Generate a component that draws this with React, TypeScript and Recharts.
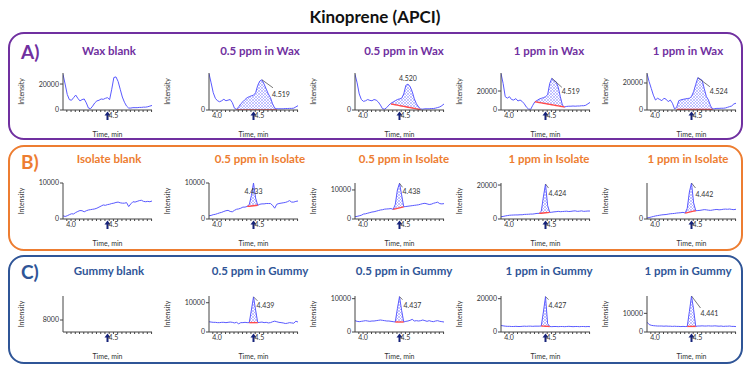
import React from 'react';
import { ComposedChart, Line, Area, XAxis, YAxis, ReferenceDot, Label } from 'recharts';

// ---------- shared axis data ----------
const TIMES = [3.905, 3.93, 3.955, 3.98, 4.005, 4.03, 4.055, 4.08, 4.105, 4.13, 4.155, 4.18, 4.205, 4.23, 4.255, 4.28, 4.305, 4.33, 4.355, 4.38, 4.405, 4.43, 4.455, 4.48, 4.505, 4.53, 4.555, 4.58, 4.605, 4.63, 4.655, 4.68, 4.705, 4.73, 4.755, 4.78, 4.805, 4.83, 4.855, 4.88, 4.905, 4.93, 4.955];
const X_TICKS = [3.95, 4.0, 4.05, 4.1, 4.15, 4.2, 4.25, 4.3, 4.35, 4.4, 4.45, 4.5, 4.55, 4.6, 4.65, 4.7, 4.75, 4.8, 4.85, 4.9, 4.95];
const X_LABELS_FULL = [4.0, 4.5];
const X_LABELS_SHORT = [4.5];
const ARROW_TIME = 4.43;

// ---------- titles ----------
const MAIN_TITLE = 'Kinoprene (APCI)';
const PANEL_LABELS = ['A)', 'B)', 'C)'];
const TITLES_A = ['Wax blank', '0.5 ppm in Wax', '0.5 ppm in Wax', '1 ppm in Wax', '1 ppm in Wax'];
const TITLES_B = ['Isolate blank', '0.5 ppm in Isolate', '0.5 ppm in Isolate', '1 ppm in Isolate', '1 ppm in Isolate'];
const TITLES_C = ['Gummy blank', '0.5 ppm in Gummy', '0.5 ppm in Gummy', '1 ppm in Gummy', '1 ppm in Gummy'];

// ---------- intensity traces ----------
const WAX_BLANK = [27500, 20000, 12000, 8000, 7500, 9500, 11500, 9000, 7000, 8000, 8500, 5500, 1500, 1000, 3000, 5500, 7000, 7500, 8500, 8200, 9000, 9500, 8000, 16000, 25000, 25500, 22000, 16000, 10000, 6000, 3000, 1500, 1500, 1800, 1800, 1800, 2000, 2000, 2200, 2200, 2500, 3000, 3500];
const WAX_05_A = [29500, 22000, 14000, 9500, 7500, 6700, 7500, 8700, 7500, 8000, 8500, 6000, 1500, 500, 2500, 5000, 6700, 8500, 10000, 10800, 11500, 12000, 14000, 20000, 23500, 24500, 21000, 17000, 13000, 10000, 5000, 1500, 1000, 1000, 1000, 1000, 1200, 1200, 1300, 1300, 1500, 2500, 3500];
const WAX_05_B = [29000, 22000, 13000, 8500, 7000, 7500, 8500, 7800, 7500, 8500, 8000, 6500, 4000, 1000, 700, 2000, 4000, 5500, 6500, 7500, 8500, 9000, 9500, 13000, 20000, 21000, 19000, 15000, 9000, 5000, 2500, 800, 700, 1000, 1000, 1000, 1200, 1200, 1500, 2000, 2500, 3500, 4900];
const WAX_1_A = [38500, 28000, 14000, 12500, 14000, 11000, 10500, 12000, 9500, 10500, 9000, 6500, 3000, 1000, 700, 5000, 8700, 10000, 11500, 12300, 13000, 14000, 16000, 28000, 33400, 31000, 29800, 24000, 14000, 5000, 3200, 3800, 4000, 4000, 4200, 4000, 4200, 4200, 4500, 4500, 5000, 6500, 8000];
const WAX_1_B = [27000, 21000, 16000, 11000, 7400, 8700, 7800, 6900, 8700, 8000, 6200, 7400, 5000, 800, 2000, 6900, 7500, 7900, 8200, 8500, 8700, 10000, 13600, 19000, 23900, 23000, 22000, 16000, 10000, 7400, 3000, 700, 1000, 1200, 1200, 1300, 1300, 1500, 2000, 2500, 3000, 4500, 5000];

const ISO_BLANK = [900, 700, 900, 1200, 1450, 1400, 1800, 2100, 2350, 2300, 2000, 2300, 2500, 2600, 2700, 2800, 3000, 3300, 3600, 3900, 3800, 4000, 4100, 4300, 4400, 4600, 4700, 4500, 4400, 4400, 4550, 3450, 4200, 4800, 4700, 4900, 5100, 5200, 4900, 4800, 4900, 4800, 5000];
const ISO_05_A = [900, 1000, 1200, 1300, 1500, 1700, 1850, 2100, 2300, 2400, 2100, 2000, 2400, 2700, 2800, 3000, 3300, 3300, 3500, 4000, 6500, 10000, 5800, 3800, 4100, 4200, 4200, 4300, 4300, 4300, 3800, 3000, 4100, 4300, 4400, 4500, 4600, 4800, 5100, 4700, 4700, 4900, 5000];
const ISO_05_B = [800, 900, 1100, 1300, 1700, 1800, 2000, 2200, 2400, 2500, 2700, 2900, 3100, 3200, 3400, 3450, 3500, 3600, 3300, 5000, 10000, 12300, 8300, 4200, 4300, 4400, 4500, 4600, 4700, 4800, 4900, 5100, 5300, 5400, 5200, 5000, 5100, 5400, 5600, 5800, 5300, 5200, 5300];
const ISO_1_A = [1350, 1500, 1800, 2000, 2200, 2300, 2350, 2400, 2400, 2500, 2500, 2700, 2750, 2800, 2900, 2900, 3100, 3300, 3300, 4500, 13000, 20600, 8000, 3900, 4000, 4200, 4300, 4500, 4300, 4400, 4500, 4600, 4400, 4500, 4700, 4800, 4500, 4600, 4800, 4500, 4600, 4700, 4700];
const ISO_1_B = [550, 800, 1100, 1400, 1700, 1900, 2100, 2300, 2400, 2500, 2700, 2900, 3000, 3100, 3300, 3400, 3500, 3700, 3300, 6000, 15000, 20000, 9000, 4600, 4700, 4800, 5000, 5200, 5100, 4900, 4800, 5000, 5200, 5300, 5100, 5200, 5400, 5500, 5400, 5550, 5300, 5200, 5400];

const GUM_05_A = [3500, 3400, 3300, 3300, 3200, 3200, 3300, 3300, 3200, 3300, 3400, 3300, 3100, 3300, 2800, 3200, 3200, 3300, 3200, 3200, 7500, 12000, 7500, 3200, 3300, 3400, 3200, 3300, 3100, 3200, 3500, 3700, 3500, 3300, 3200, 3100, 2900, 3000, 3200, 3100, 3000, 3700, 3400];
const GUM_05_B = [3400, 3200, 3100, 3200, 3300, 3400, 3300, 3200, 3300, 3300, 3400, 3500, 3600, 3500, 3400, 3300, 3300, 3200, 3100, 3000, 7000, 10600, 6500, 3000, 3200, 3300, 3500, 3800, 3300, 3400, 3300, 3400, 3600, 3400, 3200, 3400, 3200, 3100, 3300, 3400, 3200, 3100, 3000];
const GUM_1_A = [3900, 3700, 3500, 3400, 3400, 3300, 3300, 3400, 3300, 3300, 3400, 3500, 3400, 3500, 3500, 3400, 3500, 3500, 3500, 3600, 12000, 21200, 5000, 3300, 3200, 3300, 3300, 3200, 3300, 3300, 3200, 3300, 3400, 3300, 3200, 3300, 3300, 3200, 3300, 3300, 3200, 3300, 3200];
const GUM_1_B = [5300, 4000, 3600, 3400, 3300, 3200, 3200, 3200, 3100, 3200, 3100, 3100, 3000, 3100, 3000, 3000, 2900, 3000, 2900, 3000, 11000, 19300, 12000, 3000, 3200, 3200, 3300, 3200, 3200, 3300, 3200, 3200, 3300, 3200, 3100, 3200, 3000, 3100, 3100, 3200, 3000, 3000, 2900];

// ---------- integration (peak) data: [fromIndex, toIndex, baseStart, baseEnd] ----------
const PEAK_WAX_05_A = [13, 32, 0, 0];
const PEAK_WAX_05_B = [17, 31, 4900, 300];
const PEAK_WAX_1_A = [16, 30, 8700, 3200];
const PEAK_WAX_1_B = [14, 31, 500, 500];
const PEAK_ISO_05_A = [18, 23, 3500, 3800];
const PEAK_ISO_05_B = [18, 23, 3300, 4200];
const PEAK_ISO_1_A = [18, 23, 3300, 3900];
const PEAK_ISO_1_B = [18, 23, 3300, 4600];
const PEAK_GUM_05_A = [19, 23, 3200, 3200];
const PEAK_GUM_05_B = [19, 23, 3000, 3000];
const PEAK_GUM_1_A = [19, 23, 3600, 3300];
const PEAK_GUM_1_B = [19, 23, 3000, 3000];

const RT_A = [null, '4.519', '4.520', '4.519', '4.524'];
const RT_B = [null, '4.433', '4.438', '4.424', '4.442'];
const RT_C = [null, '4.439', '4.437', '4.427', '4.441'];

// ---------- axis scales per chart ----------
const YDOM_A = [[0, 28500], [0, 30000], [0, 30000], [0, 39000], [0, 27400]];
const YTICK_A = [[0, 20000], [0], [0], [0, 20000], [0, 20000]];
const YDOM_B = [[0, 10000], [0, 10000], [0, 12400], [0, 21200], [0, 20000]];
const YTICK_B = [[0, 10000], [0, 10000], [0, 10000], [0, 20000], [0]];
const YDOM_C = [[7400, 9200], [0, 12300], [0, 10800], [0, 21600], [0, 19300]];
const YTICK_C = [[8000], [0, 10000], [0, 10000], [0, 20000], [0, 10000]];

// ---------- layout / style (not data) ----------
const FONT = 'Lato, "Open Sans", "DejaVu Sans", sans-serif';
const COL_AXIS_X = [63, 209, 355, 501, 647];
const COL_TITLE_X = [109, 260, 404, 549, 688];
const TRACE = '#5a5aff';
const RED = '#ff4a4a';
const AXIS = '#444';
const TXT = '#333';
const PANELS = [
  { top: 32, bottom: 140, color: '#7030A0', title: '#7030A0', plotTop: 73, plotH: 37, titleY: 51, labelY: 52 },
  { top: 145, bottom: 251, color: '#ED7D31', title: '#ED7D31', plotTop: 183, plotH: 36, titleY: 159, labelY: 162 },
  { top: 255, bottom: 364, color: '#2F5597', title: '#2F5597', plotTop: 296, plotH: 36, titleY: 271, labelY: 272 },
];
// peak annotation offsets in pixels from the apex: [lineDx, lineDy, textDx, textDy, anchor]
const ANN_A = [null, [11, 8, 10, 14, 'start'], [null, null, 0, -6, 'middle'], [10, 9, 10, 13, 'start'], [12, 9, 12, 13, 'start']];
const ANN_B = [null, [null, null, 0, 8, 'middle'], [3, 4, 3, 8, 'start'], [3, 4, 3, 9, 'start'], [4, 5, 4, 11, 'start']];
const ANN_C = [null, [4, 4, 3, 8, 'start'], [3, 3, 4, 8, 'start'], [3, 3, 3, 8, 'start'], [9, 12, 9, 17, 'start']];

const ROWS = [
  { titles: TITLES_A, series: [WAX_BLANK, WAX_05_A, WAX_05_B, WAX_1_A, WAX_1_B], peaks: [null, PEAK_WAX_05_A, PEAK_WAX_05_B, PEAK_WAX_1_A, PEAK_WAX_1_B], rts: RT_A, ann: ANN_A, ydom: YDOM_A, yticks: YTICK_A, xl: [X_LABELS_SHORT, X_LABELS_FULL, X_LABELS_FULL, X_LABELS_FULL, X_LABELS_FULL] },
  { titles: TITLES_B, series: [ISO_BLANK, ISO_05_A, ISO_05_B, ISO_1_A, ISO_1_B], peaks: [null, PEAK_ISO_05_A, PEAK_ISO_05_B, PEAK_ISO_1_A, PEAK_ISO_1_B], rts: RT_B, ann: ANN_B, ydom: YDOM_B, yticks: YTICK_B, xl: [X_LABELS_FULL, X_LABELS_FULL, X_LABELS_FULL, X_LABELS_FULL, X_LABELS_FULL] },
  { titles: TITLES_C, series: [null, GUM_05_A, GUM_05_B, GUM_1_A, GUM_1_B], peaks: [null, PEAK_GUM_05_A, PEAK_GUM_05_B, PEAK_GUM_1_A, PEAK_GUM_1_B], rts: RT_C, ann: ANN_C, ydom: YDOM_C, yticks: YTICK_C, xl: [X_LABELS_SHORT, X_LABELS_FULL, X_LABELS_FULL, X_LABELS_FULL, X_LABELS_FULL] },
];

const IntensityLabel = (props: any) => {
  const vb = props.viewBox || { x: 0, y: 0, width: 55, height: 36 };
  const x = vb.x + 13;
  const y = vb.y + vb.height / 2;
  return (
    <text x={x} y={y} transform={`rotate(-90 ${x} ${y})`} textAnchor="middle" dominantBaseline="central" fontSize={7} fill={TXT}>
      Intensity
    </text>
  );
};

const ArrowShape = (p: any) => (
  <g fill="#16237a">
    <path d={`M${p.cx},${p.cy + 1.5} L${p.cx - 3},${p.cy + 5.5} L${p.cx + 3},${p.cy + 5.5} Z`} />
    <rect x={p.cx - 1} y={p.cy + 5} width={2} height={5} />
  </g>
);

function MiniChart({ row, col, pid }: any) {
  const panel = PANELS[row];
  const R = ROWS[row];
  const values: number[] | null = R.series[col];
  const peak: number[] | null = R.peaks[col];
  const ydom = R.ydom[col];
  const yticks = R.yticks[col];
  const xl = R.xl[col];
  const ann = R.ann[col];
  const rt = R.rts[col];

  const data = TIMES.map((t, i) => {
    const v = values ? values[i] : null;
    let band: number[] | null = null;
    let base: number | null = null;
    if (peak && v != null && i >= peak[0] && i <= peak[1]) {
      const f = (i - peak[0]) / (peak[1] - peak[0]);
      base = peak[2] + f * (peak[3] - peak[2]);
      band = [base, Math.max(v, base)];
    }
    return { t, v, band, base };
  });

  let apex = -1;
  if (peak && values) {
    for (let i = peak[0]; i <= peak[1]; i++) if (apex < 0 || values[i] > values[apex]) apex = i;
  }

  const W = 150;
  const H = 6 + panel.plotH + 30;
  const axisX = COL_AXIS_X[col];

  const peakShape = (p: any) => {
    if (!ann) return <g />;
    const [lx, ly, tx, ty, anchor] = ann;
    return (
      <g>
        {lx != null && <line x1={p.cx} y1={p.cy} x2={p.cx + lx} y2={p.cy + ly} stroke="#555" strokeWidth={0.8} />}
        <text x={p.cx + tx} y={p.cy + ty} fontSize={7} fill={TXT} textAnchor={anchor} dominantBaseline="central">{rt}</text>
      </g>
    );
  };

  return (
    <div style={{ position: 'absolute', left: axisX - 55, top: panel.plotTop - 6, width: W, height: H }}>
      <ComposedChart width={W} height={H} data={data} margin={{ top: 6, right: 6, bottom: 0, left: 0 }}>
        <defs>
          <pattern id={pid} width="3" height="3" patternUnits="userSpaceOnUse">
            <rect width="3" height="3" fill="#ffffff" />
            <path d="M0,0 L3,3 M3,0 L0,3" stroke="#8a8aff" strokeWidth="0.5" />
          </pattern>
        </defs>
        <XAxis
          dataKey="t"
          type="number"
          domain={[3.905, 4.955]}
          ticks={X_TICKS}
          interval={0}
          allowDataOverflow
          tickFormatter={(v: number) => (xl.includes(v) ? v.toFixed(1) : '')}
          tickSize={2}
          tickMargin={1}
          height={30}
          stroke={AXIS}
          tick={{ fontSize: 7, fill: TXT }}
        >
          <Label value="Time, min" position="insideBottom" offset={3} style={{ fontSize: 7, fill: TXT }} />
        </XAxis>
        <YAxis
          type="number"
          domain={ydom}
          ticks={yticks}
          interval={0}
          allowDataOverflow
          width={55}
          tickSize={3}
          tickMargin={1}
          stroke={AXIS}
          tick={{ fontSize: 7, fill: TXT }}
          tickFormatter={(v: number) => String(v)}
        >
          <Label content={IntensityLabel} />
        </YAxis>
        {peak && (
          <Area type="linear" dataKey="band" fill={`url(#${pid})`} fillOpacity={1} stroke="none" isAnimationActive={false} />
        )}
        {values && <Line type="linear" dataKey="v" stroke={TRACE} strokeWidth={1} dot={false} isAnimationActive={false} />}
        {peak && <Line type="linear" dataKey="base" stroke={RED} strokeWidth={1.4} dot={false} isAnimationActive={false} />}
        <ReferenceDot x={ARROW_TIME} y={ydom[0]} r={3} ifOverflow="visible" shape={ArrowShape} />
        {apex >= 0 && values && (
          <ReferenceDot x={TIMES[apex]} y={Math.min(values[apex], ydom[1])} r={3} ifOverflow="visible" shape={peakShape} />
        )}
      </ComposedChart>
    </div>
  );
}

export default function App() {
  return (
    <div style={{ position: 'absolute', left: 0, top: 0, width: 750, height: 371, background: '#fff', fontFamily: FONT, overflow: 'hidden' }}>
      <div style={{ position: 'absolute', left: 0, width: 750, top: 6, textAlign: 'center', fontSize: 17, fontWeight: 700, color: '#111', lineHeight: '22px' }}>
        {MAIN_TITLE}
      </div>
      {PANELS.map((p, r) => (
        <div
          key={'panel' + r}
          style={{ position: 'absolute', left: 8, top: p.top, width: 735 - 4, height: p.bottom - p.top - 4, border: `2px solid ${p.color}`, borderRadius: 16 }}
        />
      ))}
      {PANELS.map((p, r) => (
        <div key={'pl' + r} style={{ position: 'absolute', left: 21, top: p.labelY - 12, fontSize: 19, fontWeight: 700, color: p.title, lineHeight: '24px' }}>
          {PANEL_LABELS[r]}
        </div>
      ))}
      {ROWS.map((R, r) =>
        R.titles.map((t, c) => (
          <div
            key={'t' + r + c}
            style={{ position: 'absolute', left: COL_TITLE_X[c] - 80, width: 160, top: PANELS[r].titleY - 8, textAlign: 'center', fontSize: 11.5, fontWeight: 700, color: PANELS[r].title, lineHeight: '16px' }}
          >
            {t}
          </div>
        ))
      )}
      {ROWS.map((R, r) => R.titles.map((_, c) => <MiniChart key={'c' + r + c} row={r} col={c} pid={`hatch-${r}-${c}`} />))}
    </div>
  );
}
